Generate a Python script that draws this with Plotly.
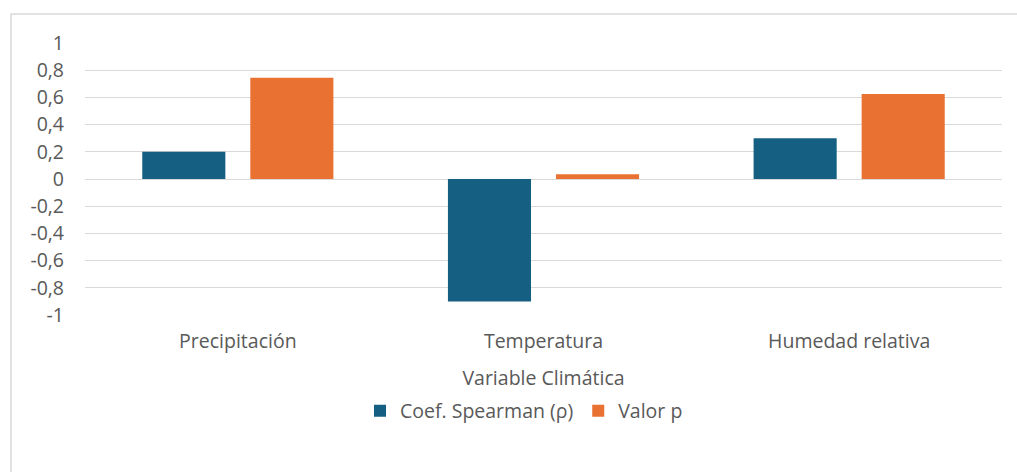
import plotly.graph_objects as go

categories = ["Precipitación", "Temperatura", "Humedad relativa"]
coef_spearman = [0.2, -0.9, 0.3]
valor_p = [0.745, 0.035, 0.625]
series_names = ["Coef. Spearman (ρ)", "Valor p"]
y_tickvals = [1, 0.8, 0.6, 0.4, 0.2, 0, -0.2, -0.4, -0.6, -0.8, -1]
y_ticktext = ["1", "0,8", "0,6", "0,4", "0,2", "0", "-0,2", "-0,4", "-0,6", "-0,8", "-1"]

BLUE = "#156082"
ORANGE = "#E97132"
TEXT = "#595959"
GRID = "#D9D9D9"
FONT = "Open Sans"
FS = 19.5

fig = go.Figure()
fig.add_trace(go.Bar(x=categories, y=coef_spearman, name=series_names[0],
                     marker=dict(color=BLUE, line=dict(width=0))))
fig.add_trace(go.Bar(x=categories, y=valor_p, name=series_names[1],
                     marker=dict(color=ORANGE, line=dict(width=0))))

W, H = 1017, 472
L, R, T, B = 85, 15, 43, 157
pw, ph = W - L - R, H - T - B

def px_x(x):
    return (x - L) / pw

def px_y(y):
    return (H - B - y) / ph

fig.update_layout(
    width=W, height=H,
    margin=dict(l=L, r=R, t=T, b=B, autoexpand=False),
    paper_bgcolor="white", plot_bgcolor="white",
    font=dict(family=FONT, size=FS, color=TEXT),
    barmode="group", bargap=0.293, bargroupgap=0.231,
    showlegend=True,
    legend=dict(orientation="h", xref="container", yref="container",
                x=524 / W, xanchor="center", y=1 - 411 / H, yanchor="middle",
                font=dict(family=FONT, size=FS, color=TEXT),
                itemwidth=30, traceorder="normal"),
    xaxis=dict(showgrid=False, zeroline=False, showline=False, ticks="",
               ticklabelstandoff=12, automargin=False,
               title=dict(text="Variable Climática", standoff=18,
                          font=dict(family=FONT, size=FS, color=TEXT))),
    yaxis=dict(range=[-1, 1], tickvals=y_tickvals, ticktext=y_ticktext,
               showgrid=True, gridcolor=GRID, gridwidth=1.3,
               zeroline=True, zerolinecolor=GRID, zerolinewidth=1.3,
               showline=False, ticks="", ticklabelstandoff=20, automargin=False),
    shapes=[dict(type="rect", xref="paper", yref="paper",
                 x0=px_x(11), x1=px_x(1040), y0=px_y(14), y1=px_y(500),
                 line=dict(color=GRID, width=1.5), fillcolor="rgba(0,0,0,0)",
                 layer="below")],
)

fig.write_html("out.html", config={"displayModeBar": False},
               post_script="document.body.style.margin='0';document.body.style.overflow='hidden';")
